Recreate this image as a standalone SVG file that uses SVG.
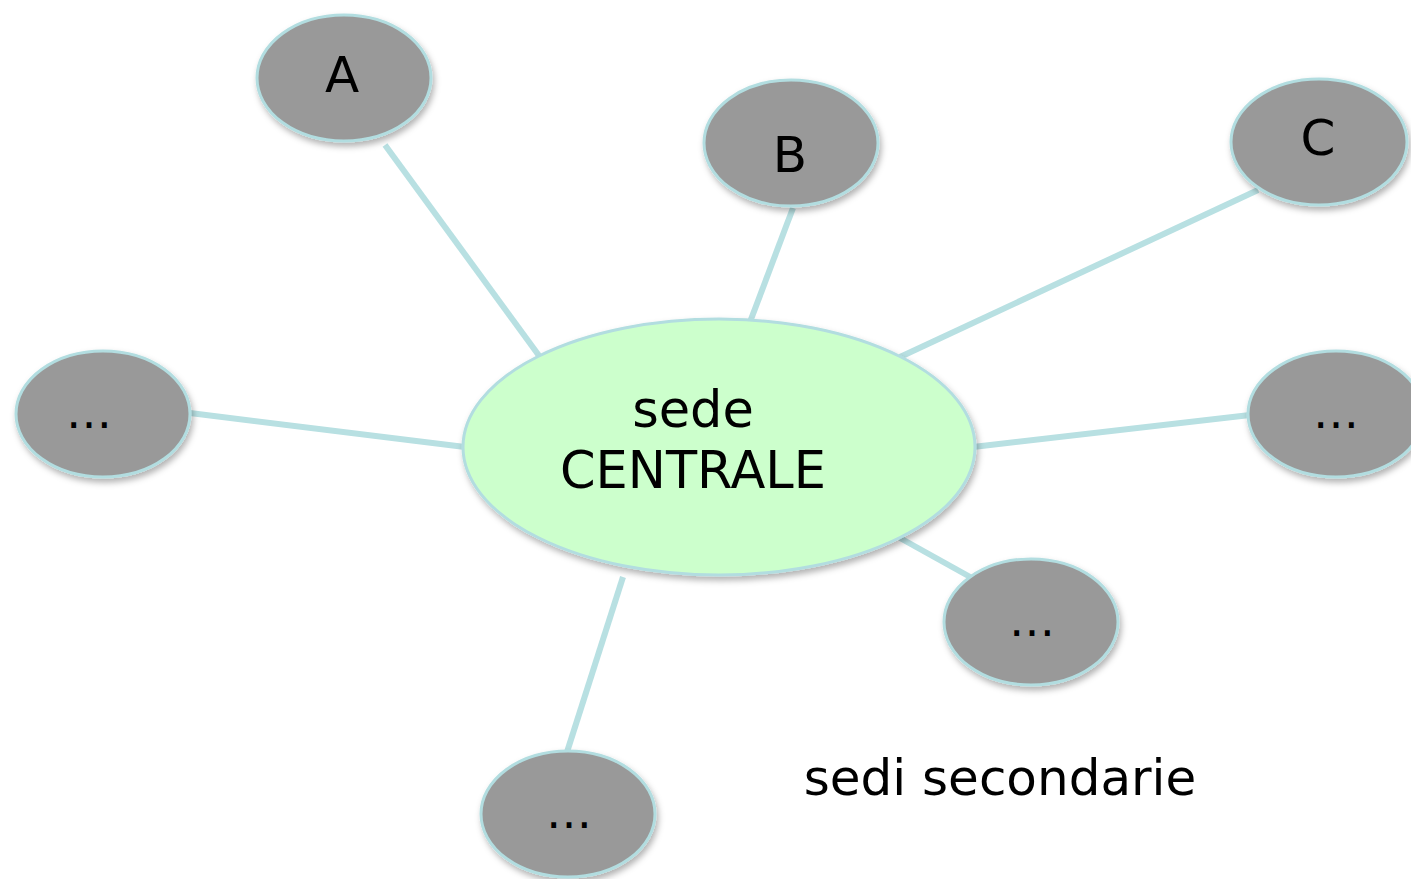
<svg xmlns="http://www.w3.org/2000/svg" width="1411" height="879" viewBox="0 0 1411 879">
<defs>
<filter id="sh" x="-20%" y="-20%" width="140%" height="150%">
<feDropShadow dx="2" dy="4" stdDeviation="3" flood-color="#000" flood-opacity="0.3"/>
</filter>
<style>
.leaf{fill:#999999;stroke:#b2dde0;stroke-width:3;filter:url(#sh)}
.hub{fill:#ccffcc;stroke:#b2dde0;stroke-width:3;filter:url(#sh)}
.lk{stroke:#b8e0e2;stroke-width:6;fill:none}
text{font-family:"DejaVu Sans","Verdana",sans-serif;fill:#000;text-anchor:middle}
.big{font-size:50px}
.dots{font-size:46px}
</style>
</defs>
<rect width="1411" height="879" fill="#fff"/>
<g id="connectors">
<line class="lk" x1="385" y1="145" x2="540" y2="357"/>
<line class="lk" x1="793" y1="208" x2="750" y2="322"/>
<line class="lk" x1="1258" y1="190" x2="900" y2="357"/>
<line class="lk" x1="190" y1="413" x2="465" y2="447"/>
<line class="lk" x1="973" y1="447" x2="1250" y2="415"/>
<line class="lk" x1="900" y1="538" x2="972" y2="578"/>
<line class="lk" x1="623" y1="577" x2="567" y2="752"/>
</g>
<g id="hub">
<ellipse class="hub" cx="719" cy="447" rx="256" ry="128"/>
<text x="693" y="427" style="font-size:51px">sede</text>
<text x="693" y="488" style="font-size:51px">CENTRALE</text>
</g>
<g id="nodeA">
<ellipse class="leaf" cx="344" cy="78" rx="87" ry="63"/>
<text class="big" x="342" y="92">A</text>
</g>
<g id="nodeB">
<ellipse class="leaf" cx="791" cy="143" rx="87" ry="63"/>
<text class="big" x="790" y="172">B</text>
</g>
<g id="nodeC">
<ellipse class="leaf" cx="1319" cy="142" rx="88" ry="63"/>
<text class="big" x="1318" y="155">C</text>
</g>
<g id="nodeLeft">
<ellipse class="leaf" cx="103" cy="414" rx="87" ry="63"/>
<text class="dots" x="89" y="428">…</text>
</g>
<g id="nodeRight">
<ellipse class="leaf" cx="1336" cy="414" rx="88" ry="63"/>
<text class="dots" x="1336" y="428">…</text>
</g>
<g id="nodeBottomRight">
<ellipse class="leaf" cx="1031" cy="622" rx="87" ry="63"/>
<text class="dots" x="1032" y="636">…</text>
</g>
<g id="nodeBottom">
<ellipse class="leaf" cx="568" cy="814" rx="87" ry="63"/>
<text class="dots" x="569" y="828">…</text>
</g>
<g id="label">
<text x="1000" y="795" style="font-size:50px">sedi secondarie</text>
</g>
</svg>
